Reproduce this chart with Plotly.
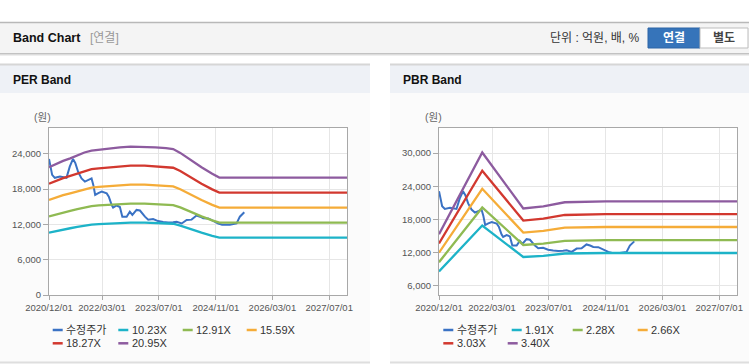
import plotly.graph_objects as go

# ---------------- data ----------------
price_dates = ["2020-12-01", "2020-12-13", "2020-12-28", "2021-01-20", "2021-03-05", "2021-04-30",
               "2021-05-28", "2021-06-25", "2021-07-15", "2021-08-08", "2021-09-06", "2021-10-05",
               "2021-11-03", "2021-12-01", "2021-12-16", "2022-01-01", "2022-01-28", "2022-02-26",
               "2022-04-10", "2022-04-28", "2022-05-22", "2022-06-04", "2022-07-04", "2022-08-01",
               "2022-08-22", "2022-09-28", "2022-10-25", "2022-11-16", "2022-12-22", "2023-01-20",
               "2023-03-04", "2023-04-01", "2023-05-13", "2023-06-25", "2023-08-07", "2023-09-19",
               "2023-11-01", "2023-12-01", "2024-01-13", "2024-02-25", "2024-04-07", "2024-05-19",
               "2024-06-19", "2024-07-16", "2024-08-28", "2024-10-10", "2024-11-22", "2024-12-25",
               "2025-03-01", "2025-04-28", "2025-05-26", "2025-07-03"]
price_values = [23100, 21900, 20400, 19900, 20100, 19900,
                21800, 23100, 22400, 20900, 19800, 19250,
                19500, 19800, 18700, 17000, 17300, 17550,
                17250, 16700, 15300, 14850, 15200, 14950,
                13300, 13300, 14150, 13600, 14450, 14350,
                13300, 12800, 12900, 12550, 12400, 12300,
                12350, 12450, 12150, 12750, 12800, 13500,
                13300, 13050, 13000, 12550, 12150, 11950,
                11950, 12150, 13300, 14050]

per_band_dates = ["2020-12-01", "2021-02-01", "2021-04-01", "2021-06-01", "2021-08-01", "2021-10-01",
                  "2021-12-01", "2022-02-01", "2022-05-01", "2022-08-01", "2022-11-01", "2023-03-01",
                  "2023-06-01", "2023-09-01", "2023-11-01", "2024-01-01", "2024-04-01", "2024-07-01",
                  "2024-10-01", "2024-12-01", "2027-12-01"]
per_band_10_23 = [10588, 10874, 11120, 11335, 11560, 11816, 11969, 12051, 12153, 12235, 12296, 12296,
                  12235, 12174, 12102, 11785, 11151, 10588, 10046, 9739, 9739]
per_band_12_91 = [13362, 13723, 14033, 14304, 14588, 14911, 15105, 15208, 15337, 15440, 15518, 15518,
                  15440, 15363, 15273, 14872, 14072, 13362, 12678, 12290, 12290]
per_band_15_59 = [16136, 16572, 16946, 17274, 17617, 18006, 18240, 18365, 18521, 18646, 18739, 18739,
                  18646, 18552, 18443, 17960, 16993, 16136, 15309, 14842, 14842]
per_band_18_27 = [18909, 19421, 19859, 20243, 20645, 21102, 21376, 21522, 21705, 21851, 21961, 21961,
                  21851, 21741, 21613, 21047, 19914, 18909, 17941, 17393, 17393]
per_band_20_95 = [21683, 22270, 22773, 23213, 23674, 24197, 24512, 24679, 24889, 25056, 25182, 25182,
                  25056, 24931, 24784, 24134, 22836, 21683, 20573, 19944, 19944]

pbr_band_dates = ["2020-12-01", "2021-12-07", "2022-11-24", "2023-05-15", "2023-11-15", "2024-11-01",
                  "2027-12-01"]
pbr_band_1_91 = [8624, 16904, 11231, 11441, 11861, 11957, 11957]
pbr_band_2_28 = [10294, 20178, 13406, 13657, 14159, 14273, 14273]
pbr_band_2_66 = [12010, 23541, 15641, 15933, 16519, 16652, 16652]
pbr_band_3_03 = [13680, 26816, 17816, 18150, 18816, 18968, 18968]
pbr_band_3_40 = [15351, 30090, 19992, 20366, 21114, 21284, 21284]

per_names = ["수정주가", "10.23X", "12.91X", "15.59X", "18.27X", "20.95X"]
pbr_names = ["수정주가", "1.91X", "2.28X", "2.66X", "3.03X", "3.40X"]
series_colors = ["#3a72c4", "#1db3c8", "#8fba52", "#f5ac38", "#d2382f", "#8d5b9f"]

x_tick_vals = ["2020-12-01", "2022-03-01", "2023-07-01", "2024-11-01", "2026-03-01", "2027-07-01"]
x_tick_text = ["2020/12/01", "2022/03/01", "2023/07/01", "2024/11/01", "2026/03/01", "2027/07/01"]
per_y_ticks = [0, 6000, 12000, 18000, 24000]
pbr_y_ticks = [6000, 12000, 18000, 24000, 30000]

# ---------------- layout helpers ----------------
W, H = 749, 364
FONT = "Liberation Sans, Arial, Noto Sans CJK KR, sans-serif"


def X(px):
    return px / W


def Y(py):
    return 1 - py / H


fig = go.Figure()

per_bands = [per_band_10_23, per_band_12_91, per_band_15_59, per_band_18_27, per_band_20_95]
pbr_bands = [pbr_band_1_91, pbr_band_2_28, pbr_band_2_66, pbr_band_3_03, pbr_band_3_40]

# PER chart
fig.add_trace(go.Scatter(x=price_dates, y=price_values, mode="lines", name=per_names[0],
                         line=dict(color=series_colors[0], width=2), xaxis="x", yaxis="y",
                         showlegend=False))
for i, band in enumerate(per_bands):
    fig.add_trace(go.Scatter(x=per_band_dates, y=band, mode="lines", name=per_names[i + 1],
                             line=dict(color=series_colors[i + 1], width=2.3), xaxis="x", yaxis="y",
                             showlegend=False))
# PBR chart
fig.add_trace(go.Scatter(x=price_dates, y=price_values, mode="lines", name=pbr_names[0],
                         line=dict(color=series_colors[0], width=2), xaxis="x2", yaxis="y2",
                         showlegend=False))
for i, band in enumerate(pbr_bands):
    fig.add_trace(go.Scatter(x=pbr_band_dates, y=band, mode="lines", name=pbr_names[i + 1],
                             line=dict(color=series_colors[i + 1], width=2.3), xaxis="x2", yaxis="y2",
                             showlegend=False))

axis_common = dict(showgrid=True, gridcolor="#e6e6e6", gridwidth=1, showline=True,
                   linecolor="#a8a8a8", linewidth=1, mirror=True, ticks="outside",
                   tickcolor="#a8a8a8", zeroline=False, automargin=False,
                   tickfont=dict(family=FONT, size=9.5, color="#555555"))

fig.update_layout(
    width=W, height=H, margin=dict(l=0, r=0, t=0, b=0, pad=0), autosize=False,
    paper_bgcolor="white", plot_bgcolor="white", showlegend=False,
    xaxis=dict(domain=[X(49), X(347)], type="date", range=["2020-12-01", "2027-12-01"],
               tickvals=x_tick_vals, ticktext=x_tick_text, ticklen=4, anchor="y", **axis_common),
    yaxis=dict(domain=[Y(295), Y(128)], range=[0, 28360], tickvals=per_y_ticks, tickformat=",",
               ticklen=5, anchor="x", **axis_common),
    xaxis2=dict(domain=[X(439), X(737)], type="date", range=["2020-12-01", "2027-12-01"],
                tickvals=x_tick_vals, ticktext=x_tick_text, ticklen=4, anchor="y2", **axis_common),
    yaxis2=dict(domain=[Y(295), Y(128)], range=[4374, 34518], tickvals=pbr_y_ticks, tickformat=",",
                ticklen=5, anchor="x2", **axis_common),
)

shapes = []


def rect(x0, y0, x1, y1, fill, line_color=None, lw=0):
    shapes.append(dict(type="rect", xref="paper", yref="paper", x0=X(x0), x1=X(x1), y0=Y(y1), y1=Y(y0),
                       fillcolor=fill, line=dict(color=line_color or fill, width=lw), layer="below"))


def hline(x0, x1, y, color, width=1):
    shapes.append(dict(type="line", xref="paper", yref="paper", x0=X(x0), x1=X(x1), y0=Y(y), y1=Y(y),
                       line=dict(color=color, width=width), layer="below"))


# top header bar
rect(0, 22, 749, 53, "#f4f4f4")
hline(0, 749, 22.5, "#b8b8b8", 1.5)
hline(0, 749, 53.5, "#c2c2c2", 1)
hline(0, 749, 54.5, "#dcdcdc", 1)
hline(0, 749, 55.5, "#eeeeee", 1)

# panels
for (px0, px1) in [(0, 370), (390, 749)]:
    rect(px0, 64, px1, 93, "#eef1f6")
    rect(px0, 93, px1, 362, "#fbfbfb")
    hline(px0, px1, 64.5, "#d6d6d6", 2)
    hline(px0, px1, 362.5, "#dedede", 2)
# plot areas
rect(49, 128, 347, 295, "white")
rect(439, 128, 737, 295, "white")

# buttons
rect(648, 28, 700, 48, "#3674ba", "#2c64a6", 1)
rect(700, 28, 748, 48, "white", "#bdbdbd", 1)

annotations = []


def text(x, y, s, size=12, color="#222222", anchor="left", bold=False):
    annotations.append(dict(xref="paper", yref="paper", x=X(x), y=Y(y), text=f"<b>{s}</b>" if bold else s,
                            showarrow=False, xanchor=anchor, yanchor="middle",
                            font=dict(family=FONT, size=size, color=color)))


text(11, 38.5, "Band Chart", 12.5, "#111111", bold=True)
text(88, 38.5, "[연결]", 12, "#999999")
text(642, 38.5, "단위 : 억원, 배, %", 12, "#333333", anchor="right")
text(674, 38, "연결", 12, "white", anchor="center", bold=True)
text(724, 38, "별도", 12, "#444444", anchor="center", bold=True)
text(11, 80, "PER Band", 12, "#111111", bold=True)
text(401, 80, "PBR Band", 12, "#111111", bold=True)
text(42, 117, "(원)", 10.5, "#666666", anchor="center")
text(434, 117, "(원)", 10.5, "#666666", anchor="center")

# manual legends
per_legend_pos = [(52.7, 330), (118.3, 330), (182.7, 330), (246.7, 330), (52.7, 343.3), (118.3, 343.3)]
pbr_legend_pos = [(443.3, 330), (511.7, 330), (572.7, 330), (637.7, 330), (443.3, 343.3), (507.7, 343.3)]
for names, positions in [(per_names, per_legend_pos), (pbr_names, pbr_legend_pos)]:
    for name, color, (lx, ly) in zip(names, series_colors, positions):
        hline(lx, lx + 10, ly, color, 2.5)
        text(lx + 11.5, ly, name, 11, "#333333")

fig.update_layout(shapes=shapes, annotations=annotations)
fig.write_html("out.html", config={"displayModeBar": False},
               post_script="document.body.style.margin='0px';document.body.style.overflow='hidden';")
